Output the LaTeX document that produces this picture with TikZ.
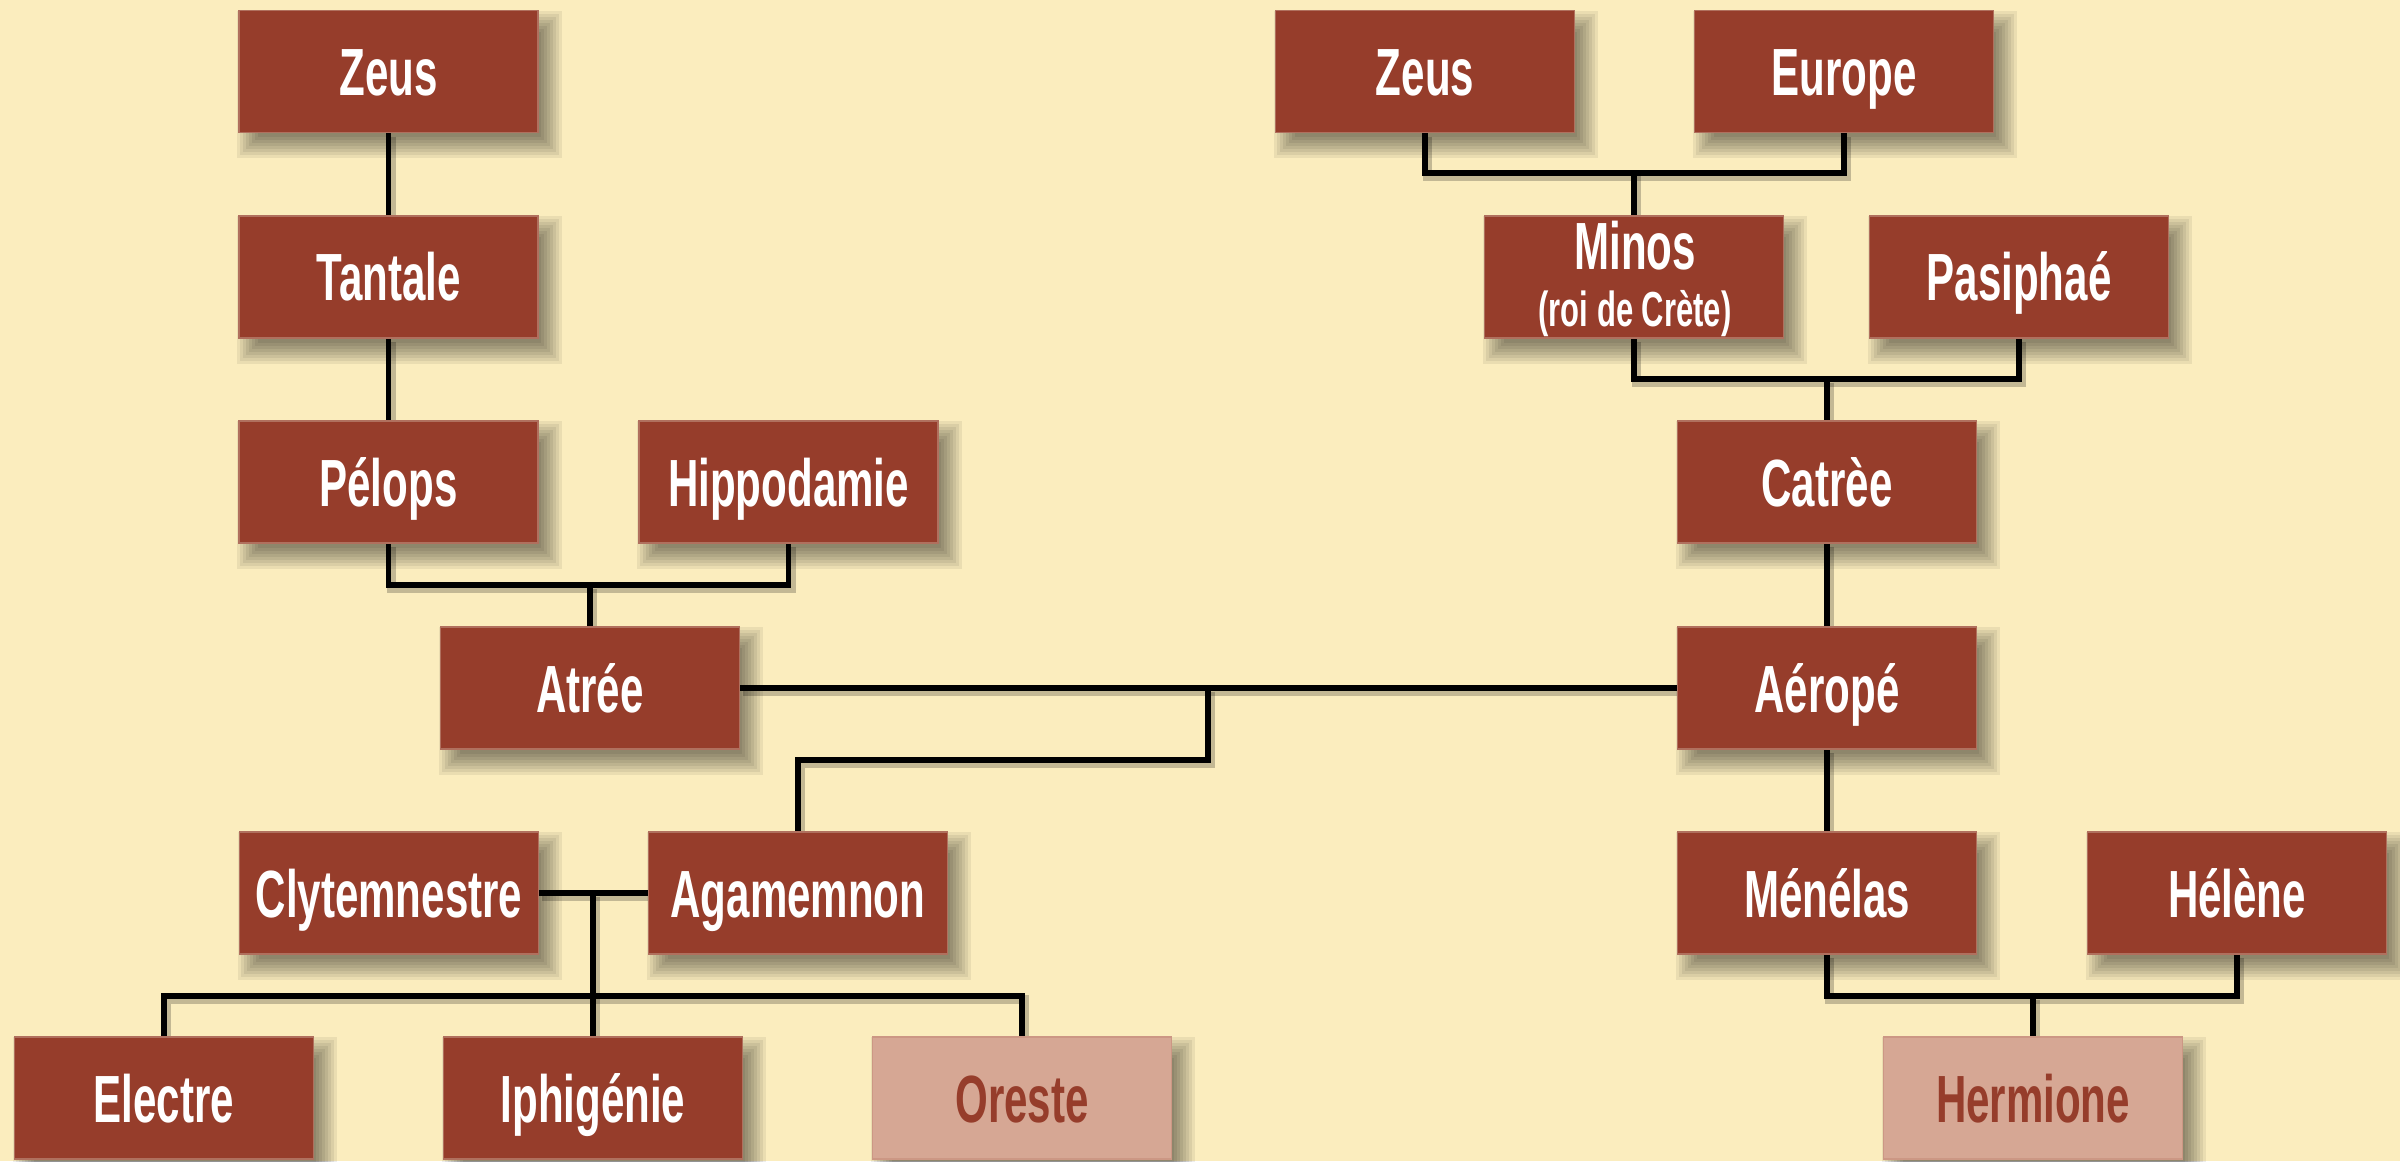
\documentclass[tikz,border=0pt]{standalone}
\usepackage{fontspec}
\setmainfont[FakeStretch=0.63]{Liberation Sans}
\definecolor{bgc}{RGB}{251,237,190}
\definecolor{boxc}{RGB}{150,61,43}
\definecolor{boxlightc}{RGB}{214,167,148}
\definecolor{boxedgec}{RGB}{176,112,94}
\pgfdeclarelayer{shadowlayer}
\pgfdeclarelayer{edgelayer}
\pgfdeclarelayer{background}
\pgfsetlayers{background,shadowlayer,edgelayer,main}
\tikzset{
  person/.style={fill=boxc, draw=boxedgec, line width=0.5pt,
    minimum width=2.99cm, minimum height=1.22cm, inner sep=0pt,
    text=white, font=\fontsize{19}{22}\selectfont\bfseries,
    text height=0.48cm, text depth=0pt},
  heir/.style={person, fill=boxlightc, draw=boxlightc!85!boxc, text=boxc},
  link/.style={draw=black, line width=0.055cm,
    preaction={draw=black, draw opacity=0.22, line width=0.09cm,
      transform canvas={shift={(0.025cm,-0.035cm)}}}},
}
\newcommand\boxshadow[1]{%
  \foreach \r in {-0.09,-0.06,-0.03,0,0.03,0.06,0.09,0.12}{%
    \fill[black,fill opacity=0.068]
      ([shift={({0.11-(\r)},{-0.13-(\r)})}]#1.south west) rectangle
      ([shift={({0.11+(\r)},{-0.13+(\r)})}]#1.north east);
  }}
\begin{document}
\begin{tikzpicture}
\begin{pgfonlayer}{background}
  \fill[bgc] (0,0) rectangle (24,-11.61);
\end{pgfonlayer}
\useasboundingbox (0,0) rectangle (24,-11.61);

% row 1
\node[person] (zeusL)  at (3.885,-0.715) {Zeus};
\node[person] (zeusR)  at (14.25,-0.715) {Zeus};
\node[person] (europe) at (18.44,-0.715) {Europe};
% row 2
\node[person] (tantale) at (3.885,-2.77) {Tantale};
\node[person] (minos)   at (16.34,-2.77) {};
\node[text=white, font=\fontsize{19}{22}\selectfont\bfseries, anchor=base, inner sep=0pt]
  (minosname) at (16.35,-2.70) {Minos};
\node[text=white, font=\fontsize{14}{16}\selectfont\bfseries, anchor=base, inner sep=0pt]
  (minostitle) at (16.35,-3.27) {(roi de Crète)};
\node[person] (pasiphae) at (20.19,-2.77) {Pasiphaé};
% row 3
\node[person] (pelops) at (3.885,-4.82) {Pélops};
\node[person] (hippo)  at (7.885,-4.82) {Hippodamie};
\node[person] (catree) at (18.27,-4.82) {Catrèe};
% row 4
\node[person] (atree)  at (5.90,-6.88) {Atrée};
\node[person] (aerope) at (18.27,-6.88) {Aéropé};
% row 5
\node[person] (clyt)    at (3.89,-8.93) {Clytemnestre};
\node[person] (agam)    at (7.98,-8.93) {Agamemnon};
\node[person] (menelas) at (18.27,-8.93) {Ménélas};
\node[person] (helene)  at (22.37,-8.93) {Hélène};
% row 6
\node[person] (electre)  at (1.64,-10.98) {Electre};
\node[person] (iphi)     at (5.93,-10.98) {Iphigénie};
\node[heir]   (oreste)   at (10.22,-10.98) {Oreste};
\node[heir]   (hermione) at (20.33,-10.98) {Hermione};

\begin{pgfonlayer}{shadowlayer}
  \foreach \n in {zeusL,zeusR,europe,tantale,minos,pasiphae,pelops,hippo,catree,
                  atree,aerope,clyt,agam,menelas,helene,electre,iphi,oreste,hermione}{
    \boxshadow{\n}
  }
\end{pgfonlayer}

% junction coordinates
\coordinate (jPH)  at (5.90,-5.85);
\coordinate (jAA)  at (12.08,-6.88);
\coordinate (jAA2) at (12.08,-7.60);
\coordinate (jAA3) at (7.98,-7.60);
\coordinate (jCA)  at (5.93,-8.93);
\coordinate (jKids) at (5.93,-9.96);
\coordinate (jZE)  at (16.34,-1.73);
\coordinate (jMP)  at (18.27,-3.79);
\coordinate (jMH)  at (20.33,-9.96);

\begin{pgfonlayer}{edgelayer}
  \draw[link] (zeusL) -- (tantale);
  \draw[link] (tantale) -- (pelops);
  \draw[link] (pelops.south) |- (jPH) -| (hippo.south);
  \draw[link] (jPH) -- (atree.north);
  \draw[link] (atree.east) -- (aerope.west);
  \draw[link] (jAA) -- (jAA2) -- (jAA3) -- (agam.north);
  \draw[link] (clyt.east) -- (agam.west);
  \draw[link] (jCA) -- (iphi.north);
  \draw[link] (electre.north) |- (jKids) -| (oreste.north);
  \draw[link] (zeusR.south) |- (jZE) -| (europe.south);
  \draw[link] (jZE) -- (minos.north);
  \draw[link] (minos.south) |- (jMP) -| (pasiphae.south);
  \draw[link] (jMP) -- (catree.north);
  \draw[link] (catree) -- (aerope);
  \draw[link] (aerope) -- (menelas);
  \draw[link] (menelas.south) |- (jMH) -| (helene.south);
  \draw[link] (jMH) -- (hermione.north);
\end{pgfonlayer}
\end{tikzpicture}
\end{document}
